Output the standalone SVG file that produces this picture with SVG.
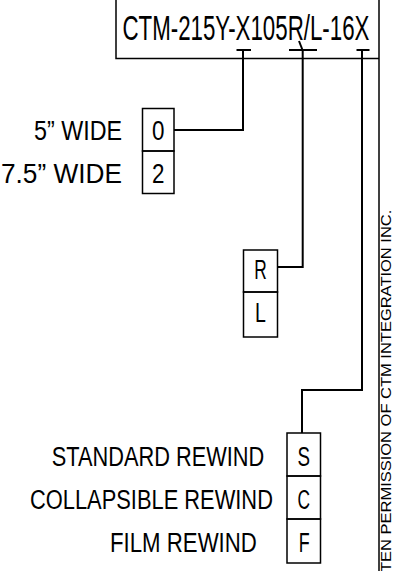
<svg xmlns="http://www.w3.org/2000/svg" width="393" height="571" viewBox="0 0 393 571">
<style>
  .bg{fill:#ffffff}
  .t{font-family:"Liberation Sans",Arial,sans-serif;font-size:28px;fill:#000}
  .c{text-anchor:middle}
  .tt{font-family:"Liberation Sans",Arial,sans-serif;font-size:35px;fill:#000}
  .ts{font-family:"Liberation Sans",Arial,sans-serif;font-size:15px;fill:#000}
  .box{fill:none;stroke:#000;stroke-width:1.5}
  .ln{fill:none;stroke:#000;stroke-width:2}
  .bd{fill:none;stroke:#000;stroke-width:1.5}
</style>
<rect class="bg" x="0" y="0" width="393" height="571"/>
<g id="frame">
  <line class="bd" x1="379" y1="0" x2="379" y2="571"/>
  <text class="ts" transform="translate(391,572) rotate(-90) scale(1.1,1)">TEN PERMISSION OF CTM INTEGRATION INC.</text>
</g>
<g id="part-number">
  <polyline class="box" points="116,0 116,58.5 379,58.5"/>
  <text class="tt" transform="translate(122.5,40) scale(0.637,1)">CTM-215Y-X105R/L-16X</text>
</g>
<g id="connectors">
  <line class="ln" x1="236.5" y1="50" x2="251" y2="50"/>
  <polyline class="ln" points="243,50 243,130 174,130"/>
  <line class="ln" x1="289" y1="50" x2="317" y2="50"/>
  <line class="ln" x1="299" y1="41" x2="302.5" y2="50"/>
  <polyline class="ln" points="302.7,50 302.7,267 277.5,267"/>
  <line class="ln" x1="356.5" y1="50" x2="369.5" y2="50"/>
  <polyline class="ln" points="362,50 362,390 302,390 302,433"/>
</g>
<g id="width-options">
  <rect class="box" x="142.5" y="108.5" width="31.5" height="42.5"/>
  <rect class="box" x="142.5" y="151" width="31.5" height="42.5"/>
  <text class="t c" transform="translate(158.3,140) scale(0.8,1)">0</text>
  <text class="t c" transform="translate(158.3,183) scale(0.8,1)">2</text>
  <text class="t" transform="translate(34,140) scale(0.832,1)">5” WIDE</text>
  <text class="t" transform="translate(1,183) scale(0.937,1)">7.5” WIDE</text>
</g>
<g id="hand-options">
  <rect class="box" x="243.5" y="250" width="34" height="42"/>
  <rect class="box" x="243.5" y="292" width="34" height="45"/>
  <text class="t c" transform="translate(260.5,278.5) scale(0.62,1)">R</text>
  <text class="t c" transform="translate(260.5,321.5) scale(0.7,1)">L</text>
</g>
<g id="rewind-options">
  <rect class="box" x="287" y="433" width="33.5" height="43"/>
  <rect class="box" x="287" y="476" width="33.5" height="43"/>
  <rect class="box" x="287" y="519" width="33.5" height="44"/>
  <text class="t c" transform="translate(303.7,466) scale(0.67,1)">S</text>
  <text class="t c" transform="translate(303.7,509) scale(0.62,1)">C</text>
  <text class="t c" transform="translate(304.2,552) scale(0.64,1)">F</text>
  <text class="t" transform="translate(51.7,466) scale(0.778,1)">STANDARD REWIND</text>
  <text class="t" transform="translate(30,509) scale(0.781,1)">COLLAPSIBLE REWIND</text>
  <text class="t" transform="translate(110,552) scale(0.794,1)">FILM REWIND</text>
</g>
</svg>
